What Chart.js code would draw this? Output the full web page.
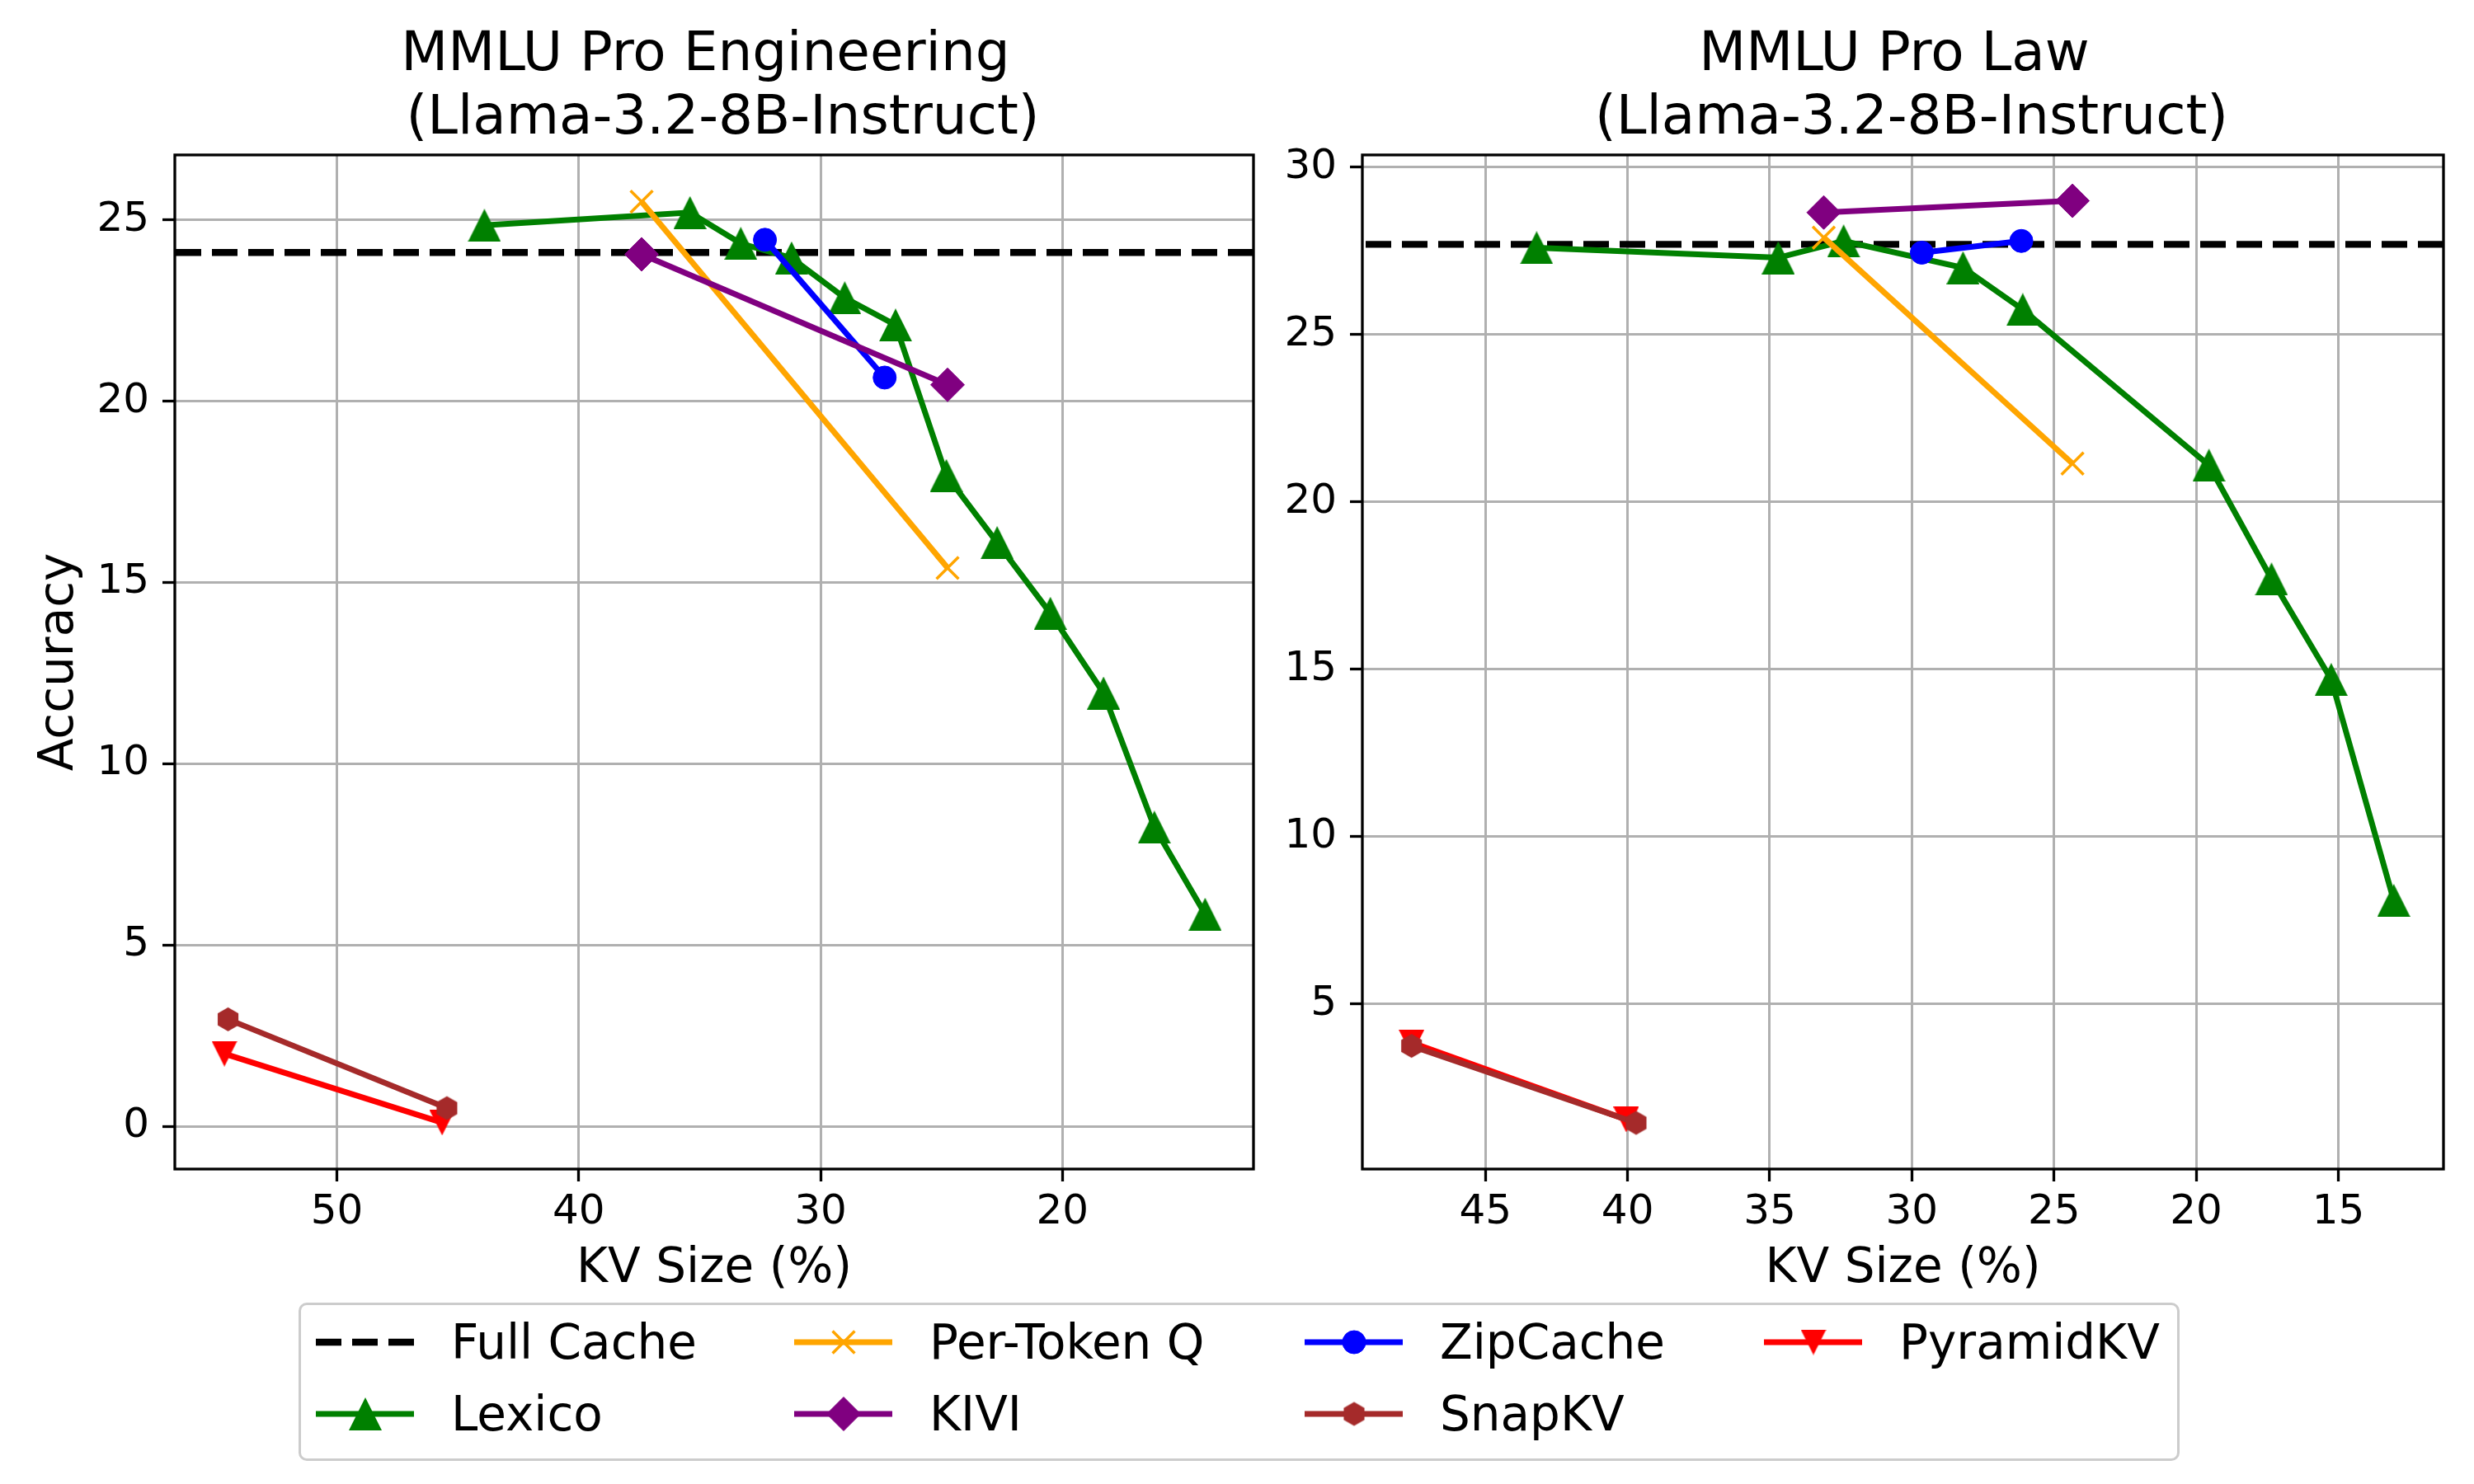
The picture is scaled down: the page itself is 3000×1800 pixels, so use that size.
<!DOCTYPE html>
<html>
<head>
<meta charset="utf-8">
<script src="https://cdn.jsdelivr.net/npm/chart.js"></script>
<style>
  body { margin: 0; width: 3000px; height: 1800px; background: #fff; position: relative; overflow: hidden; font-family: "DejaVu Sans", sans-serif; }
  #left { position: absolute; left: 0; top: 0; }
  #right { position: absolute; left: 1560px; top: 0; }
  #legend { position: absolute; left: 362px; top: 1580px; width: 2275px; height: 186px; border: 3px solid #cccccc; border-radius: 10px; }
  .item { position: absolute; height: 68px; display: flex; align-items: center; }
  .item canvas { width: 120px; height: 68px; }
  .item span { margin-left: 44px; font-size: 58px; line-height: 68px; color: #000; white-space: pre; }
</style>
</head>
<body>
<canvas id="left" width="1560" height="1580"></canvas>
<canvas id="right" width="1440" height="1580"></canvas>
<div id="legend"></div>
<script>
// ---- MMLU Pro Engineering ----
var engFull = 24.1;
var engLexicoX = [43.9, 35.4, 33.3, 31.2, 29.0, 26.9, 24.8, 22.7, 20.5, 18.3, 16.2, 14.1];
var engLexicoY = [24.85, 25.2, 24.35, 23.95, 22.85, 22.1, 17.95, 16.1, 14.15, 11.95, 8.25, 5.85];
var engPerTokX = [37.4, 24.75];
var engPerTokY = [25.5, 15.4];
var engKiviX = [37.4, 24.75];
var engKiviY = [24.05, 20.45];
var engZipX = [32.3, 27.35];
var engZipY = [24.45, 20.65];
var engSnapX = [54.5, 45.45];
var engSnapY = [2.95, 0.5];
var engPyrX = [54.65, 45.65];
var engPyrY = [2.0, 0.1];

// ---- MMLU Pro Law ----
var lawFull = 27.7;
var lawLexicoX = [43.2, 34.7, 32.4, 28.2, 26.1, 19.55, 17.35, 15.25, 13.05];
var lawLexicoY = [27.6, 27.3, 27.8, 27.0, 25.75, 21.1, 17.7, 14.7, 8.1];
var lawPerTokX = [33.1, 24.35];
var lawPerTokY = [27.9, 21.15];
var lawKiviX = [33.1, 24.35];
var lawKiviY = [28.65, 29.0];
var lawZipX = [29.65, 26.15];
var lawZipY = [27.45, 27.8];
var lawSnapX = [47.6, 39.7];
var lawSnapY = [3.75, 1.45];
var lawPyrX = [47.6, 40.05];
var lawPyrY = [3.85, 1.55];

// ---- axes ----
var engXLim = [12.1, 56.7];
var engYLim = [-1.18, 26.79];
var lawXLim = [11.3, 49.33];
var lawYLim = [0.07, 30.37];
var engXTicks = [50, 40, 30, 20];
var engYTicks = [0, 5, 10, 15, 20, 25];
var lawXTicks = [45, 40, 35, 30, 25, 20, 15];
var lawYTicks = [5, 10, 15, 20, 25, 30];

var FONT = 'DejaVu Sans';
Chart.defaults.color = '#000';
Chart.defaults.font.family = FONT;

// marker images shaped like matplotlib's 'h', '^' and 'v'
function hexagon(color, r) {
    var c = document.createElement('canvas');
    c.width = c.height = Math.ceil(2 * r + 2);
    var g = c.getContext('2d');
    g.fillStyle = color;
    g.beginPath();
    for (var i = 0; i < 6; i++) {
        var a = Math.PI / 2 + i * Math.PI / 3;
        var px = c.width / 2 + r * Math.cos(a), py = c.height / 2 - r * Math.sin(a);
        if (i) g.lineTo(px, py); else g.moveTo(px, py);
    }
    g.closePath();
    g.fill();
    return c;
}
function triangle(color, size, down) {
    var c = document.createElement('canvas');
    c.width = c.height = size;
    var g = c.getContext('2d');
    g.fillStyle = color;
    g.beginPath();
    if (down) {
        g.moveTo(0, 0); g.lineTo(size, 0); g.lineTo(size / 2, size);
    } else {
        g.moveTo(size / 2, 0); g.lineTo(size, size); g.lineTo(0, size);
    }
    g.closePath();
    g.fill();
    return c;
}

var styles = {
    'Full Cache':  { color: '#000000', marker: false, r: 0, dash: [31, 13], width: 8.3 },
    'Lexico':      { color: '#008000', marker: triangle('#008000', 40, false), r: 20 },
    'Per-Token Q': { color: '#ffa500', marker: 'crossRot', r: 19, bw: 3.5 },
    'KIVI':        { color: '#800080', marker: 'rectRot', r: 20.5 },
    'ZipCache':    { color: '#0000ff', marker: 'circle', r: 14 },
    'SnapKV':      { color: '#a52a2a', marker: hexagon('#a52a2a', 14.5), r: 15 },
    'PyramidKV':   { color: '#ff0000', marker: triangle('#ff0000', 31, true), r: 16 }
};
// plot order (later = on top); legend is column-major with 4 columns
var plotOrder = ['Full Cache', 'Lexico', 'Per-Token Q', 'ZipCache', 'KIVI', 'PyramidKV', 'SnapKV'];
var legendOrder = ['Full Cache', 'Lexico', 'Per-Token Q', 'KIVI', 'ZipCache', 'SnapKV', 'PyramidKV'];

function series(name, xs, ys) {
    var s = styles[name];
    return {
        label: name,
        data: xs.map(function (x, i) { return { x: x, y: ys[i] }; }),
        showLine: true,
        borderColor: s.color,
        backgroundColor: s.color,
        borderWidth: s.width || 7,
        borderDash: s.dash || [],
        pointStyle: s.marker,
        pointRadius: s.r,
        pointBackgroundColor: s.color,
        pointBorderColor: s.color,
        pointBorderWidth: s.bw || 1,
        order: plotOrder.length - plotOrder.indexOf(name)
    };
}

var frame = {
    id: 'frame',
    afterDatasetsDraw: function (chart) {
        var a = chart.chartArea, ctx = chart.ctx;
        ctx.save();
        ctx.strokeStyle = '#000';
        ctx.lineWidth = 3.3;
        ctx.strokeRect(a.left, a.top, a.right - a.left, a.bottom - a.top);
        ctx.restore();
    }
};

function makeChart(id, title, sets, xLim, yLim, xTicks, yTicks, yWidth, padRight, yTitle) {
    var grid = { color: '#b0b0b0', lineWidth: 3, tickColor: '#000', tickWidth: 3.3, tickLength: 15 };
    return new Chart(document.getElementById(id), {
        type: 'scatter',
        data: { datasets: sets },
        plugins: [frame],
        options: {
            responsive: false,
            animation: false,
            devicePixelRatio: 1,
            events: [],
            layout: { padding: { left: 0, right: padRight, top: 0, bottom: 0 } },
            plugins: {
                legend: { display: false },
                tooltip: { enabled: false },
                title: {
                    display: true,
                    text: title,
                    fullSize: false,
                    color: '#000',
                    font: { family: FONT, size: 66, weight: 'normal', lineHeight: 1.17 },
                    padding: { top: 29, bottom: 4.5 }
                }
            },
            scales: {
                x: {
                    type: 'linear',
                    reverse: true,
                    min: xLim[0], max: xLim[1],
                    grid: grid,
                    border: { display: false },
                    afterBuildTicks: function (s) { s.ticks = xTicks.map(function (v) { return { value: v }; }); },
                    afterFit: function (s) { s.height = 162; },
                    ticks: { font: { size: 50 }, padding: 8, maxRotation: 0, autoSkip: false, callback: function (v) { return String(v); } },
                    title: { display: true, text: 'KV Size (%)', font: { size: 58 }, padding: { top: 0, bottom: 5 } }
                },
                y: {
                    type: 'linear',
                    min: yLim[0], max: yLim[1],
                    grid: grid,
                    border: { display: false },
                    afterBuildTicks: function (s) { s.ticks = yTicks.map(function (v) { return { value: v }; }); },
                    afterFit: function (s) { s.width = yWidth; },
                    ticks: { font: { size: 50 }, padding: 16, autoSkip: false, callback: function (v) { return String(v); } },
                    title: { display: !!yTitle, text: yTitle || '', font: { size: 58 }, padding: { top: 38, bottom: 0 } }
                }
            }
        }
    });
}

var engSets = [
    series('Full Cache', engXLim, [engFull, engFull]),
    series('Lexico', engLexicoX, engLexicoY),
    series('Per-Token Q', engPerTokX, engPerTokY),
    series('KIVI', engKiviX, engKiviY),
    series('ZipCache', engZipX, engZipY),
    series('SnapKV', engSnapX, engSnapY),
    series('PyramidKV', engPyrX, engPyrY)
];
var lawSets = [
    series('Full Cache', lawXLim, [lawFull, lawFull]),
    series('Lexico', lawLexicoX, lawLexicoY),
    series('Per-Token Q', lawPerTokX, lawPerTokY),
    series('KIVI', lawKiviX, lawKiviY),
    series('ZipCache', lawZipX, lawZipY),
    series('SnapKV', lawSnapX, lawSnapY),
    series('PyramidKV', lawPyrX, lawPyrY)
];

makeChart('left', ['MMLU Pro Engineering ', ' (Llama-3.2-8B-Instruct)'], engSets, engXLim, engYLim, engXTicks, engYTicks, 212, 40, 'Accuracy');
makeChart('right', ['MMLU Pro Law ', ' (Llama-3.2-8B-Instruct)'], lawSets, lawXLim, lawYLim, lawXTicks, lawYTicks, 92, 37, null);

// legend: 4 columns, filled column by column
var colX = [18, 598, 1217, 1774];
var rowY = [45, 132];
var legend = document.getElementById('legend');
legendOrder.forEach(function (name, i) {
    var s = styles[name];
    var col = Math.floor(i / 2), row = i % 2;
    var item = document.createElement('div');
    item.className = 'item';
    item.style.left = colX[col] + 'px';
    item.style.top = (rowY[row] - 34) + 'px';
    var c = document.createElement('canvas');
    c.width = 120; c.height = 68;
    var g = c.getContext('2d');
    g.strokeStyle = s.color;
    g.fillStyle = s.color;
    g.lineWidth = s.width || 7;
    g.setLineDash(s.dash || []);
    g.beginPath(); g.moveTo(0, 34); g.lineTo(119, 34); g.stroke();
    g.setLineDash([]);
    if (s.marker) {
        g.lineWidth = s.bw || 1;
        Chart.helpers.drawPoint(g, { pointStyle: s.marker, rotation: 0, radius: s.r, borderWidth: s.bw || 1 }, 60, 34);
    }
    var t = document.createElement('span');
    t.textContent = name;
    item.appendChild(c);
    item.appendChild(t);
    legend.appendChild(item);
});
</script>
</body>
</html>
